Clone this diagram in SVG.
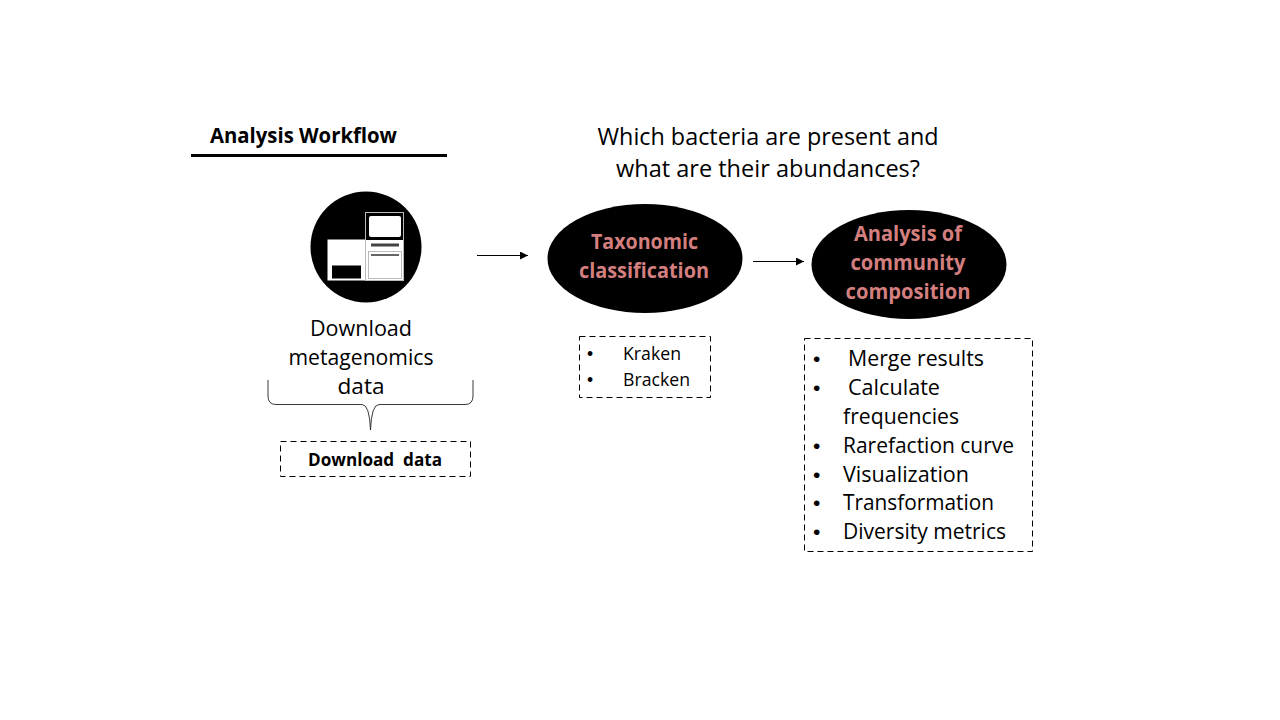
<svg xmlns="http://www.w3.org/2000/svg" width="1280" height="720" viewBox="0 0 1280 720">
<style>
text{font-family:"Open Sans","Noto Sans","Liberation Sans",sans-serif;fill:#000}
.t22{font-size:23px}
.t20{font-size:21px}
.t17{font-size:17.500px}
.b{font-weight:700}
.pink{fill:#d47f7f;font-size:20.500px;font-weight:700;text-anchor:middle}
.mid{text-anchor:middle}
.dot{font-family:"Liberation Sans",sans-serif}
.dash{fill:#fff;stroke:#000;stroke-width:1;stroke-dasharray:6 4}
.conn{fill:none;stroke:#000;stroke-width:1.100}
.brace{fill:none;stroke:#222;stroke-width:.9}
</style>
<defs><marker id="arrow" markerUnits="userSpaceOnUse" markerWidth="9" markerHeight="8" refX="8" refY="4" orient="auto"><path d="M0 0L8 4L0 8z" fill="#000"/></marker></defs>
<rect width="1280" height="720" fill="#fff"/>
<g id="title"><text x="210" y="143" class="t20 b" textLength="187" lengthAdjust="spacingAndGlyphs">Analysis Workflow</text><line x1="191" y1="155.500" x2="447" y2="155.500" stroke="#000" stroke-width="3"/></g>
<g id="question"><text x="768" y="145" class="t22 mid" textLength="341" lengthAdjust="spacingAndGlyphs">Which bacteria are present and</text><text x="768" y="177" class="t22 mid" textLength="304" lengthAdjust="spacingAndGlyphs">what are their abundances?</text></g>
<g id="connectors">
<line class="conn" x1="477" y1="255.500" x2="528" y2="255.500" marker-end="url(#arrow)"/>
<line class="conn" x1="753" y1="261.500" x2="804" y2="261.500" marker-end="url(#arrow)"/>
<path class="brace" d="M268 380V396Q268 404.500 276 404.500H362Q369.500 404.500 370.500 430Q371.500 404.500 379 404.500H465Q473 404.500 473 396V380"/>
</g>
<g id="download-node">
<circle cx="366" cy="247" r="55.500" fill="#000"/>
<rect x="327.500" y="239.500" width="38" height="41" fill="#fff"/>
<rect x="332" y="265.500" width="29" height="13" fill="#000"/>
<rect x="365.500" y="212.500" width="38" height="68" fill="#000" stroke="#bbb" stroke-width="1"/>
<rect x="369" y="216" width="32" height="21" rx="2" fill="#fff"/>
<rect x="366" y="240" width="37" height="40" fill="#fff"/>
<rect x="371" y="243.500" width="28" height="3" fill="#444"/>
<rect x="368.500" y="251.500" width="33" height="27" fill="#fff" stroke="#bbb" stroke-width="1"/>
<rect x="371" y="254" width="28" height="2" fill="#666"/>
<text x="361" y="335.500" class="t20 mid" textLength="102" lengthAdjust="spacingAndGlyphs">Download</text>
<text x="361" y="364.500" class="t20 mid" textLength="145" lengthAdjust="spacingAndGlyphs">metagenomics</text>
<text x="361" y="393.500" class="t20 mid" textLength="47" lengthAdjust="spacingAndGlyphs">data</text>
</g>
<g id="download-box"><rect class="dash" x="280.500" y="441.500" width="190" height="35"/><text x="375" y="466" class="t17 b mid" textLength="134" lengthAdjust="spacingAndGlyphs" xml:space="preserve">Download  data</text></g>
<g id="taxonomic-node"><ellipse cx="645" cy="258.500" rx="97.500" ry="54.500" fill="#000"/><text x="644.500" y="249" class="pink" textLength="107" lengthAdjust="spacingAndGlyphs">Taxonomic</text><text x="644" y="278" class="pink" textLength="130" lengthAdjust="spacingAndGlyphs">classification</text></g>
<g id="taxonomic-box"><rect class="dash" x="579.500" y="336.500" width="131" height="61"/>
<text x="587" y="360" class="t17 dot">•</text><text x="623" y="360" class="t17" textLength="58" lengthAdjust="spacingAndGlyphs">Kraken</text>
<text x="587" y="386" class="t17 dot">•</text><text x="623" y="386" class="t17" textLength="67" lengthAdjust="spacingAndGlyphs">Bracken</text></g>
<g id="community-node"><ellipse cx="909" cy="264.500" rx="97.500" ry="54.500" fill="#000"/><text x="908" y="241" class="pink" textLength="108" lengthAdjust="spacingAndGlyphs">Analysis of</text><text x="908" y="270" class="pink" textLength="115" lengthAdjust="spacingAndGlyphs">community</text><text x="908" y="299" class="pink" textLength="125" lengthAdjust="spacingAndGlyphs">composition</text></g>
<g id="community-box"><rect class="dash" x="804.500" y="338.500" width="228" height="213"/>
<text x="813" y="365.500" class="t20 dot">•</text><text x="848" y="365.500" class="t20" textLength="136" lengthAdjust="spacingAndGlyphs">Merge results</text>
<text x="813" y="394.500" class="t20 dot">•</text><text x="848" y="394.500" class="t20" textLength="92" lengthAdjust="spacingAndGlyphs">Calculate</text>
<text x="843" y="423.500" class="t20" textLength="116" lengthAdjust="spacingAndGlyphs">frequencies</text>
<text x="813" y="452.500" class="t20 dot">•</text><text x="843" y="452.500" class="t20" textLength="171" lengthAdjust="spacingAndGlyphs">Rarefaction curve</text>
<text x="813" y="481.500" class="t20 dot">•</text><text x="843" y="481.500" class="t20" textLength="126" lengthAdjust="spacingAndGlyphs">Visualization</text>
<text x="813" y="509.500" class="t20 dot">•</text><text x="843" y="509.500" class="t20" textLength="151" lengthAdjust="spacingAndGlyphs">Transformation</text>
<text x="813" y="538.500" class="t20 dot">•</text><text x="843" y="538.500" class="t20" textLength="163" lengthAdjust="spacingAndGlyphs">Diversity metrics</text></g>
</svg>
